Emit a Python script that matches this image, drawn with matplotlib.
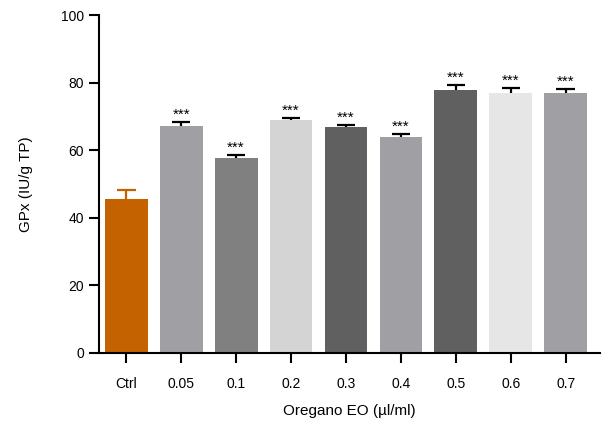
import numpy as np
import matplotlib.pyplot as plt

plt.rcParams['font.family'] = ['Liberation Sans', 'DejaVu Sans']

groups = ['Ctrl', '0.05', '0.1', '0.2', '0.3', '0.4', '0.5', '0.6', '0.7']
gpx_mean = [45.6, 67.2, 57.7, 68.9, 66.9, 63.9, 77.8, 76.9, 76.9]
gpx_err = [2.6, 1.1, 0.9, 0.6, 0.6, 0.9, 1.5, 1.5, 1.2]
signif = ['', '***', '***', '***', '***', '***', '***', '***', '***']
colors = ['#C46200', '#A0A0A4', '#808080', '#D4D4D4', '#606060',
          '#A0A0A4', '#606060', '#E6E6E6', '#A0A0A4']
err_colors = ['#C46200'] + ['black'] * 8

fig = plt.figure(figsize=(6.09, 4.32), dpi=100)
ax = fig.add_axes([0.163, 0.183, 0.822, 0.782])

x = np.arange(len(groups))
top = np.array(gpx_mean) + np.array(gpx_err)
ax.bar(x, gpx_mean, width=0.78, color=colors, zorder=2)
# only the upper half of the error bar, like the original
ax.vlines(x, gpx_mean, top, colors=err_colors, linewidth=1.6, zorder=3)
ax.hlines(top, x - 0.17, x + 0.17, colors=err_colors, linewidth=1.6, zorder=3)
for i in range(len(groups)):
    if signif[i]:
        ax.text(x[i], top[i] + 0.1, signif[i], ha='center', va='bottom', fontsize=11)

ax.set_xlim(-0.49, 8.62)
ax.set_ylim(0, 100)
ax.set_yticks(np.arange(0, 101, 20))
ax.set_xticks(x)
ax.set_xticklabels(groups, fontsize=10)
ax.tick_params(axis='y', labelsize=10, length=7, width=1.5, pad=4)
ax.tick_params(axis='x', length=7, width=1.5, pad=10)
for s in ['top', 'right']:
    ax.spines[s].set_visible(False)
for s in ['left', 'bottom']:
    ax.spines[s].set_linewidth(1.5)

ax.set_ylabel('GPx (IU/g TP)', fontsize=11, labelpad=20)
ax.set_xlabel('Oregano EO (µl/ml)', fontsize=11, labelpad=10)

fig.savefig('out.png', dpi=100)
